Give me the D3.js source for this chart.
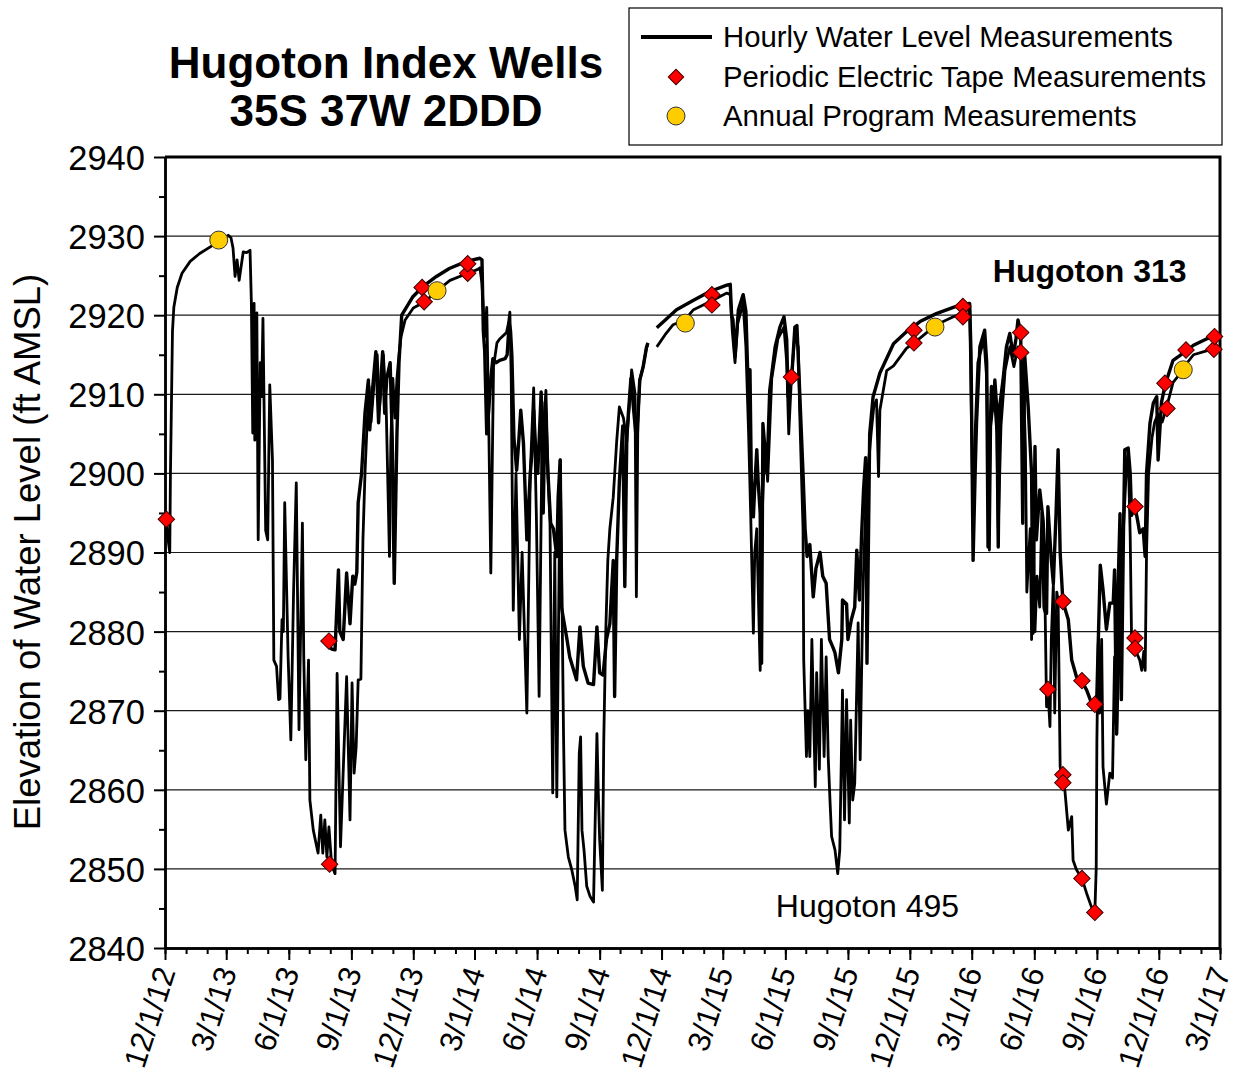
<!DOCTYPE html>
<html>
<head>
<meta charset="utf-8">
<script src="https://cdn.jsdelivr.net/npm/d3@7"></script>
<style>
  body { margin: 0; background: #fff; }
  svg { display: block; font-family: Arial, "Liberation Sans", sans-serif; }
</style>
</head>
<body>
<svg width="1250" height="1081"></svg>
<script>
// hourly record, Hugoton 495 (deep well)
var well495 = [
  ["2012-12-03",2894.2],["2012-12-05",2892],["2012-12-08",2890],["2012-12-09",2900],["2012-12-11",2912],["2012-12-12",2918],
  ["2012-12-14",2921],["2012-12-19",2923.5],["2012-12-26",2925.3],["2013-01-07",2926.8],["2013-01-21",2927.8],["2013-02-05",2928.6],
  ["2013-02-20",2929.4],["2013-03-04",2930.1],["2013-03-08",2929.8],["2013-03-11",2928.5],["2013-03-14",2924.9],["2013-03-17",2927],
  ["2013-03-20",2924.4],["2013-03-26",2928],["2013-03-31",2927.9],["2013-04-05",2928.2],["2013-04-07",2921.5],["2013-04-09",2905.1],
  ["2013-04-11",2921.5],["2013-04-12",2904.2],["2013-04-15",2920.3],["2013-04-17",2891.6],["2013-04-20",2914],["2013-04-22",2909.7],
  ["2013-04-24",2919.6],["2013-04-28",2892.8],["2013-05-01",2891.6],["2013-05-04",2911.2],["2013-05-08",2901.7],["2013-05-10",2876.4],
  ["2013-05-14",2875.6],["2013-05-17",2871.4],["2013-05-19",2871.5],["2013-05-22",2881.5],["2013-05-24",2880],["2013-05-26",2896.3],
  ["2013-05-31",2876.8],["2013-06-04",2866.3],["2013-06-08",2885],["2013-06-12",2898.8],["2013-06-16",2867.6],["2013-06-21",2893.7],
  ["2013-06-23",2876.8],["2013-06-26",2863.8],["2013-06-30",2876.4],["2013-07-02",2858.7],["2013-07-07",2854.9],["2013-07-14",2852],
  ["2013-07-18",2856.8],["2013-07-21",2852],["2013-07-24",2856.2],["2013-07-27",2851.5],["2013-07-30",2855.3],["2013-08-03",2850.5],
  ["2013-08-08",2849.4],["2013-08-11",2874.7],["2013-08-16",2852.8],["2013-08-25",2874.3],["2013-08-30",2856.2],["2013-09-02",2873.5],
  ["2013-09-05",2862.1],["2013-09-08",2865.4],["2013-09-11",2873.9],["2013-09-15",2874],["2013-09-18",2891.6],["2013-09-21",2900],
  ["2013-09-24",2906],["2013-09-27",2911],["2013-09-30",2906.5],["2013-10-04",2911],["2013-10-09",2915],["2013-10-12",2908],
  ["2013-10-15",2911],["2013-10-18",2915],["2013-10-22",2909],["2013-10-27",2889.5],["2013-10-29",2904],["2013-11-01",2912],
  ["2013-11-04",2907],["2013-11-07",2912],["2013-11-10",2915],["2013-11-13",2917.3],["2013-11-19",2919.4],["2013-12-01",2920.9],
  ["2013-12-18",2921.7],["2014-01-05",2923.1],["2014-01-24",2924.4],["2014-02-19",2925.3],["2014-03-06",2925.8],["2014-03-09",2926],
  ["2014-03-12",2924],["2014-03-16",2917.3],["2014-03-19",2921],["2014-03-22",2906],["2014-03-25",2887.4],["2014-03-29",2913.5],
  ["2014-04-03",2916.5],["2014-04-07",2917],["2014-04-17",2917.8],["2014-04-20",2919],["2014-04-22",2920.4],["2014-04-24",2912],
  ["2014-04-27",2882.7],["2014-05-01",2900],["2014-05-06",2879],["2014-05-10",2890],["2014-05-17",2869.7],["2014-05-22",2900],
  ["2014-05-27",2910.8],["2014-05-31",2894.5],["2014-06-04",2871.8],["2014-06-08",2902.3],["2014-06-14",2910.5],["2014-06-17",2900],
  ["2014-06-20",2893.7],["2014-06-24",2859.6],["2014-06-27",2890],["2014-06-30",2859.1],["2014-07-05",2901.7],["2014-07-07",2889],
  ["2014-07-10",2866.3],["2014-07-12",2854.9],["2014-07-17",2851.5],["2014-07-22",2849.9],["2014-07-27",2847.8],["2014-07-30",2846.1],
  ["2014-08-02",2864.6],["2014-08-04",2866.7],["2014-08-06",2854.9],["2014-08-09",2852.4],["2014-08-13",2847.8],["2014-08-18",2846.5],
  ["2014-08-23",2845.8],["2014-08-28",2867.1],["2014-08-30",2859.6],["2014-09-01",2853.7],["2014-09-05",2847.3],["2014-09-07",2866],
  ["2014-09-10",2880],["2014-09-13",2889],["2014-09-16",2893],["2014-09-21",2897],["2014-09-26",2904],["2014-09-30",2908.4],
  ["2014-10-06",2907],["2014-10-11",2904],["2014-10-18",2913.1],["2014-10-23",2910.1],["2014-10-25",2884.4],["2014-10-27",2905],
  ["2014-10-30",2911.8],["2014-11-04",2913.5],["2014-11-09",2916],["2014-11-11",2916.2],["2014-11-17",null],["2014-11-24",2916],
  ["2014-12-06",2917.5],["2014-12-18",2918.8],["2015-01-04",2919.4],["2015-01-17",2920.7],["2015-02-10",2921.7],["2015-03-07",2922.8],
  ["2015-03-12",2922.6],["2015-03-15",2918],["2015-03-19",2914],["2015-03-23",2919],["2015-03-31",2921.5],["2015-04-04",2916],
  ["2015-04-08",2905],["2015-04-11",2895],["2015-04-15",2879.8],["2015-04-17",2890],["2015-04-20",2893],["2015-04-25",2875.1],
  ["2015-04-28",2895],["2015-05-02",2904],["2015-05-06",2899],["2015-05-12",2912],["2015-05-21",2917],["2015-05-30",2918.5],
  ["2015-06-03",2914],["2015-06-06",2905],["2015-06-10",2912.2],["2015-06-15",2917.5],["2015-06-20",2916],["2015-06-22",2908],
  ["2015-06-27",2893],["2015-06-28",2876.4],["2015-07-02",2864.2],["2015-07-04",2870],["2015-07-07",2864.2],["2015-07-10",2879],
  ["2015-07-15",2860.4],["2015-07-17",2874.8],["2015-07-21",2862.6],["2015-07-24",2879],["2015-07-28",2864.2],["2015-07-31",2876.8],
  ["2015-08-03",2864.2],["2015-08-06",2857.9],["2015-08-08",2854.1],["2015-08-13",2852.4],["2015-08-17",2849.4],["2015-08-20",2852.4],
  ["2015-08-24",2872.6],["2015-08-27",2856.2],["2015-08-30",2871.4],["2015-09-03",2855.8],["2015-09-05",2868.8],["2015-09-08",2858.7],
  ["2015-09-11",2860.8],["2015-09-16",2881.1],["2015-09-19",2863.8],["2015-09-23",2885],["2015-09-26",2893],["2015-09-30",2900],
  ["2015-10-05",2905],["2015-10-09",2908.4],["2015-10-13",2909.3],["2015-10-16",2899.6],["2015-10-18",2908],["2015-10-28",2913],
  ["2015-11-07",2913.6],["2015-11-26",2915.8],["2015-12-16",2917.1],["2016-01-09",2918.8],["2016-02-03",2919.8],["2016-02-17",2920.3],
  ["2016-02-27",2920.8],["2016-02-29",2910],["2016-03-03",2894],["2016-03-06",2905],["2016-03-10",2914],["2016-03-19",2917],
  ["2016-03-23",2912],["2016-03-27",2890.3],["2016-03-29",2906],["2016-04-03",2910],["2016-04-07",2905],["2016-04-09",2893],
  ["2016-04-13",2906],["2016-04-19",2913],["2016-04-26",2916],["2016-05-02",2913.5],["2016-05-08",2916],["2016-05-12",2915.3],
  ["2016-05-16",2912],["2016-05-19",2903],["2016-05-21",2885],["2016-05-26",2893],["2016-05-28",2879],["2016-05-30",2897],
  ["2016-06-02",2880],["2016-06-05",2887],["2016-06-09",2883.1],["2016-06-12",2895],["2016-06-15",2883],["2016-06-17",2882.3],
  ["2016-06-19",2870.5],["2016-06-21",2872.7],["2016-06-24",2868],["2016-06-26",2879],["2016-06-29",2886.1],["2016-07-01",2869.7],
  ["2016-07-04",2885],["2016-07-06",2884],["2016-07-09",2862.9],["2016-07-13",2861.4],["2016-07-16",2859.9],["2016-07-21",2854.9],
  ["2016-07-26",2856.6],["2016-07-28",2851.1],["2016-08-02",2849.9],["2016-08-10",2848.8],["2016-08-17",2846.9],["2016-08-24",2845.2],
  ["2016-08-29",2844.5],["2016-08-31",2850],["2016-09-01",2866.3],["2016-09-03",2878.5],["2016-09-05",2869.7],["2016-09-08",2879],
  ["2016-09-10",2862.9],["2016-09-15",2858.2],["2016-09-20",2862.1],["2016-09-24",2861.5],["2016-09-27",2876.8],["2016-09-30",2867],
  ["2016-10-03",2875],["2016-10-06",2890],["2016-10-10",2893],["2016-10-14",2900],["2016-10-17",2903],["2016-10-20",2892],
  ["2016-10-22",2879],["2016-10-27",2877.9],["2016-10-31",2877],["2016-11-03",2876.4],["2016-11-06",2875.1],["2016-11-09",2877.5],
  ["2016-11-11",2875.1],["2016-11-13",2890],["2016-11-16",2900],["2016-11-21",2904.5],["2016-11-25",2906.5],["2016-11-30",2907.5],
  ["2016-12-06",2906.5],["2016-12-12",2908.2],["2016-12-22",2911.5],["2017-01-06",2913.1],["2017-01-10",2913.8],["2017-01-21",2915],
  ["2017-02-09",2915.5],["2017-02-20",2915.7],["2017-03-01",2916]
];

// hourly record, Hugoton 313 (shallower well)
var well313 = [
  ["2013-07-29",2878.7],["2013-07-31",2878],["2013-08-03",2877.8],["2013-08-08",2877.7],["2013-08-13",2887.8],["2013-08-15",2880],
  ["2013-08-20",2879],["2013-08-25",2887.4],["2013-08-30",2881],["2013-09-03",2887],["2013-09-06",2886],["2013-09-09",2887.5],
  ["2013-09-11",2896.3],["2013-09-16",2900],["2013-09-21",2907.6],["2013-09-26",2911.8],["2013-09-28",2905.5],["2013-10-02",2910.5],
  ["2013-10-07",2915.4],["2013-10-11",2906.4],["2013-10-13",2910],["2013-10-17",2915.4],["2013-10-20",2907.6],["2013-10-23",2912],
  ["2013-10-28",2914],["2013-10-31",2904.6],["2013-11-03",2886.1],["2013-11-07",2905],["2013-11-10",2914],["2013-11-14",2920],
  ["2013-11-30",2922.3],["2013-12-15",2923.6],["2014-01-04",2924.9],["2014-01-23",2925.9],["2014-02-17",2926.8],["2014-03-09",2927.2],
  ["2014-03-12",2927],["2014-03-14",2918],["2014-03-16",2915.5],["2014-03-19",2905],["2014-03-22",2908],["2014-03-25",2912],
  ["2014-03-28",2914.5],["2014-04-02",2914],["2014-04-07",2914.3],["2014-04-15",2914.5],["2014-04-18",2915],["2014-04-21",2919],
  ["2014-04-23",2918],["2014-04-25",2914.8],["2014-04-28",2904.5],["2014-05-02",2900.4],["2014-05-05",2904],["2014-05-08",2908],
  ["2014-05-12",2903.8],["2014-05-17",2891.6],["2014-05-22",2900],["2014-05-25",2903],["2014-05-27",2908],["2014-05-30",2903],
  ["2014-06-02",2900],["2014-06-07",2910.3],["2014-06-10",2895],["2014-06-13",2909],["2014-06-17",2900],["2014-06-21",2893.7],
  ["2014-06-25",2893],["2014-06-30",2889.5],["2014-07-02",2897],["2014-07-05",2901.7],["2014-07-07",2883.1],["2014-07-09",2882],
  ["2014-07-15",2879],["2014-07-19",2876.8],["2014-07-29",2873.9],["2014-08-03",2880.6],["2014-08-08",2875.6],["2014-08-15",2873.5],
  ["2014-08-23",2873.3],["2014-08-28",2880.6],["2014-09-01",2874.8],["2014-09-06",2874.5],["2014-09-11",2879],["2014-09-16",2881],
  ["2014-09-21",2889],["2014-09-23",2871.8],["2014-09-26",2889],["2014-09-30",2899],["2014-10-05",2906],["2014-10-08",2885.7],
  ["2014-10-11",2905],["2014-10-17",2912],["2014-10-21",2908],["2014-10-25",2904.2],["2014-10-30",2911.8],["2014-11-04",2913.5],
  ["2014-11-09",2916],["2014-11-11",2916.5],["2014-11-17",null],["2014-11-24",2918.4],["2014-12-23",2920.7],["2015-01-17",2921.9],
  ["2015-02-10",2923],["2015-03-07",2923.8],["2015-03-12",2923.9],["2015-03-14",2920],["2015-03-16",2919.4],["2015-03-19",2914.8],
  ["2015-03-24",2920.7],["2015-03-31",2922.6],["2015-04-04",2920.5],["2015-04-08",2908.9],["2015-04-10",2913.1],["2015-04-12",2899.1],
  ["2015-04-15",2894.5],["2015-04-17",2898.3],["2015-04-20",2903],["2015-04-22",2899],["2015-04-25",2895],["2015-04-27",2876],
  ["2015-04-29",2906.3],["2015-05-05",2900],["2015-05-09",2910.5],["2015-05-17",2916],["2015-05-24",2918.5],["2015-05-30",2919.8],
  ["2015-06-03",2916.9],["2015-06-05",2909.7],["2015-06-08",2912],["2015-06-11",2913],["2015-06-15",2918.5],["2015-06-18",2918.7],
  ["2015-06-22",2910.5],["2015-06-27",2900],["2015-06-30",2893],["2015-07-03",2889.5],["2015-07-07",2891],["2015-07-12",2884.4],
  ["2015-07-16",2888],["2015-07-22",2890],["2015-07-26",2887],["2015-07-31",2886.1],["2015-08-05",2879],["2015-08-10",2878],
  ["2015-08-13",2877.3],["2015-08-18",2874.8],["2015-08-23",2879],["2015-08-24",2884],["2015-08-30",2883.5],["2015-09-01",2879],
  ["2015-09-06",2881.5],["2015-09-11",2883.1],["2015-09-14",2890.3],["2015-09-18",2884],["2015-09-21",2892],["2015-09-24",2898],
  ["2015-09-27",2902],["2015-09-29",2876],["2015-10-03",2905],["2015-10-08",2909.7],["2015-10-18",2912.7],["2015-11-07",2916.4],
  ["2015-11-26",2917.9],["2015-12-16",2919.2],["2016-01-09",2920.2],["2016-02-03",2921],["2016-02-17",2921.4],["2016-02-27",2921.5],
  ["2016-02-29",2915],["2016-03-03",2889],["2016-03-06",2900],["2016-03-08",2906.3],["2016-03-13",2916],["2016-03-20",2918.1],
  ["2016-03-23",2914],["2016-03-25",2890.7],["2016-03-28",2905],["2016-03-30",2911],["2016-04-02",2908],["2016-04-04",2911.8],
  ["2016-04-07",2908],["2016-04-09",2890.7],["2016-04-11",2908.4],["2016-04-16",2911.8],["2016-04-21",2916],["2016-04-26",2917.7],
  ["2016-05-01",2914.8],["2016-05-05",2917],["2016-05-08",2919.4],["2016-05-12",2917.8],["2016-05-15",2893.7],["2016-05-18",2914.8],
  ["2016-05-23",2908.4],["2016-05-28",2900],["2016-05-30",2879.8],["2016-06-02",2903.4],["2016-06-04",2891.6],["2016-06-09",2897.9],
  ["2016-06-14",2894],["2016-06-19",2882.3],["2016-06-21",2895.8],["2016-06-26",2889],["2016-06-29",2886.1],["2016-07-03",2895],
  ["2016-07-06",2903],["2016-07-09",2890],["2016-07-13",2883.8],["2016-07-21",2881.5],["2016-07-26",2876.4],["2016-08-02",2874.3],
  ["2016-08-10",2873.7],["2016-08-17",2872.6],["2016-08-24",2871],["2016-08-29",2870.5],["2016-09-01",2872],["2016-09-06",2888.4],
  ["2016-09-10",2885.3],["2016-09-15",2880.3],["2016-09-20",2883.6],["2016-09-25",2883.6],["2016-09-27",2887.8],["2016-09-30",2867.1],
  ["2016-10-02",2885],["2016-10-05",2894.9],["2016-10-07",2871.4],["2016-10-10",2892],["2016-10-12",2903],["2016-10-17",2903.2],
  ["2016-10-20",2900],["2016-10-22",2894.7],["2016-10-27",2895.8],["2016-10-31",2894],["2016-11-03",2892.5],["2016-11-08",2893],
  ["2016-11-11",2889.5],["2016-11-13",2900],["2016-11-18",2906.3],["2016-11-23",2908.9],["2016-11-28",2909.7],["2016-11-30",2901.7],
  ["2016-12-05",2909],["2016-12-11",2911.4],["2016-12-22",2914.3],["2017-01-06",2915.2],["2017-01-21",2916.2],["2017-02-09",2917],
  ["2017-03-01",2917.5]
];

var tapeMeasurements = [
  ["2012-12-03",2894.2],["2013-07-30",2878.8],["2013-07-31",2850.6],["2013-12-14",2923.5],["2013-12-17",2921.7],
  ["2014-02-19",2925.3],["2014-02-19",2926.5],["2015-02-13",2922.6],["2015-02-13",2921.3],["2015-06-10",2912.2],
  ["2015-12-07",2918.1],["2015-12-07",2916.5],["2016-02-17",2921.1],["2016-02-17",2919.8],["2016-05-12",2917.8],
  ["2016-05-12",2915.3],["2016-06-21",2872.7],["2016-07-13",2883.8],["2016-07-13",2861.9],["2016-07-13",2860.9],
  ["2016-08-10",2873.8],["2016-08-10",2848.8],["2016-08-29",2870.8],["2016-08-29",2844.5],["2016-10-27",2895.8],
  ["2016-10-27",2879.2],["2016-10-27",2877.9],["2016-12-10",2911.4],["2016-12-13",2908.2],["2017-01-10",2915.6],
  ["2017-02-20",2915.7],["2017-02-21",2917.3]
];

var annualMeasurements = [
  ["2013-02-18",2929.5],["2014-01-05",2923.1],["2015-01-05",2919],["2016-01-07",2918.5],["2017-01-06",2913.1]
];

var xTickDates = ["2012-12-01","2013-03-01","2013-06-01","2013-09-01","2013-12-01","2014-03-01","2014-06-01",
  "2014-09-01","2014-12-01","2015-03-01","2015-06-01","2015-09-01","2015-12-01","2016-03-01","2016-06-01",
  "2016-09-01","2016-12-01","2017-03-01"];
var yTicks = [2840, 2850, 2860, 2870, 2880, 2890, 2900, 2910, 2920, 2930, 2940];
var dateRange = ["2012-12-01", "2017-03-01"];

var parse = d3.timeParse("%Y-%m-%d");

var svg = d3.select("svg"),
    margin = {top: 157, right: 30, bottom: 133, left: 165},
    width = +svg.attr("width") - margin.left - margin.right,
    height = +svg.attr("height") - margin.top - margin.bottom;

svg.append("rect").attr("width", 1250).attr("height", 1081).attr("fill", "#fff");

var x = d3.scaleTime().domain(dateRange.map(parse)).range([0, width]),
    y = d3.scaleLinear().domain([2840, 2940]).range([height, 0]);

var g = svg.append("g")
    .attr("transform", "translate(" + margin.left + "," + margin.top + ")");

// gridlines
g.append("g")
  .selectAll("line")
  .data(yTicks.slice(1, -1))
  .enter().append("line")
    .attr("x1", 0).attr("x2", width)
    .attr("y1", function(d) { return y(d); })
    .attr("y2", function(d) { return y(d); })
    .attr("stroke", "#1a1a1a")
    .attr("stroke-width", 1.2);

// frame top + right
g.append("path")
  .attr("d", "M0,0H" + width + "V" + height)
  .attr("fill", "none")
  .attr("stroke", "#000")
  .attr("stroke-width", 3);

// minor ticks
var minorY = d3.range(2845, 2940, 10);
g.append("g")
  .attr("class", "axis")
  .call(d3.axisLeft(y).tickValues(minorY).tickSize(6).tickSizeOuter(0).tickFormat(""));

g.append("g")
  .attr("class", "axis")
  .attr("transform", "translate(0," + height + ")")
  .call(d3.axisBottom(x).ticks(d3.timeMonth.every(1)).tickSize(6).tickSizeOuter(0).tickFormat(""));

// major axes
var yAxis = g.append("g")
  .attr("class", "axis")
  .call(d3.axisLeft(y).tickValues(yTicks).tickSize(11).tickSizeOuter(0).tickPadding(9).tickFormat(d3.format("d")));

yAxis.selectAll("text")
  .style("font-size", "34.5px")
  .attr("fill", "#000")
  .attr("dy", "0.36em");

var xAxis = g.append("g")
  .attr("class", "axis")
  .attr("transform", "translate(0," + height + ")")
  .call(d3.axisBottom(x).tickValues(xTickDates.map(parse)).tickSize(12).tickSizeOuter(0)
    .tickFormat(d3.timeFormat("%-m/%-d/%y")));

xAxis.selectAll("text")
  .attr("x", 0).attr("y", 0).attr("dy", "0.35em")
  .attr("transform", "translate(0,20) rotate(-72)")
  .style("text-anchor", "end")
  .style("font-size", "31px")
  .attr("fill", "#000");

svg.selectAll(".axis path, .axis line").attr("stroke", "#000").attr("stroke-width", 2);
svg.selectAll(".axis .domain").attr("stroke-width", 2.5);

// lines
var line = d3.line()
    .defined(function(d) { return d[1] !== null; })
    .x(function(d) { return x(parse(d[0])); })
    .y(function(d) { return y(d[1]); });

g.append("path")
  .datum(well495)
  .attr("d", line)
  .attr("fill", "none")
  .attr("stroke", "#000")
  .attr("stroke-width", 2.8)
  .attr("stroke-linejoin", "round");

g.append("path")
  .datum(well313)
  .attr("d", line)
  .attr("fill", "none")
  .attr("stroke", "#000")
  .attr("stroke-width", 3.4)
  .attr("stroke-linejoin", "round");

// markers
var diamond = d3.symbol().type(d3.symbolSquare).size(135);

g.selectAll(".tape")
  .data(tapeMeasurements)
  .enter().append("path")
    .attr("class", "tape")
    .attr("d", diamond)
    .attr("transform", function(d) {
      return "translate(" + x(parse(d[0])) + "," + y(d[1]) + ") rotate(45)";
    })
    .attr("fill", "#ff0000")
    .attr("stroke", "#400000")
    .attr("stroke-width", 1);

g.selectAll(".annual")
  .data(annualMeasurements)
  .enter().append("circle")
    .attr("class", "annual")
    .attr("cx", function(d) { return x(parse(d[0])); })
    .attr("cy", function(d) { return y(d[1]); })
    .attr("r", 9)
    .attr("fill", "#ffcc00")
    .attr("stroke", "#333")
    .attr("stroke-width", 1);

// well labels
g.append("text")
  .attr("x", x(parse("2016-04-01")))
  .attr("y", y(2924.2))
  .style("font-size", "32px")
  .style("font-weight", "bold")
  .text("Hugoton 313");

g.append("text")
  .attr("x", x(parse("2015-05-18")))
  .attr("y", y(2843.9))
  .style("font-size", "32px")
  .text("Hugoton 495");

// y title
svg.append("text")
  .attr("transform", "translate(40,552) rotate(-90)")
  .attr("text-anchor", "middle")
  .style("font-size", "36.5px")
  .text("Elevation of Water Level (ft AMSL)");

// title
var title = svg.append("text")
  .attr("text-anchor", "middle")
  .style("font-size", "44px")
  .style("font-weight", "bold");
title.append("tspan").attr("x", 386).attr("y", 78).text("Hugoton Index Wells");
title.append("tspan").attr("x", 386).attr("y", 126).text("35S 37W 2DDD");

// legend
var legend = svg.append("g").attr("transform", "translate(629,8)");
legend.append("rect")
  .attr("width", 593).attr("height", 137)
  .attr("fill", "#fff").attr("stroke", "#000").attr("stroke-width", 1.2);

var legendItems = ["Hourly Water Level Measurements", "Periodic Electric Tape Measurements", "Annual Program Measurements"];

legend.selectAll(".ltext")
  .data(legendItems)
  .enter().append("text")
    .attr("class", "ltext")
    .attr("x", 94)
    .attr("y", function(d, i) { return 39 + i * 39.5; })
    .style("font-size", "29.3px")
    .text(function(d) { return d; });

legend.append("line")
  .attr("x1", 12).attr("x2", 83).attr("y1", 29).attr("y2", 29)
  .attr("stroke", "#000").attr("stroke-width", 4);

legend.append("path")
  .attr("d", d3.symbol().type(d3.symbolSquare).size(120))
  .attr("transform", "translate(47,69) rotate(45)")
  .attr("fill", "#ff0000").attr("stroke", "#400000");

legend.append("circle")
  .attr("cx", 47).attr("cy", 108).attr("r", 9)
  .attr("fill", "#ffcc00").attr("stroke", "#333");
</script>
</body>
</html>
